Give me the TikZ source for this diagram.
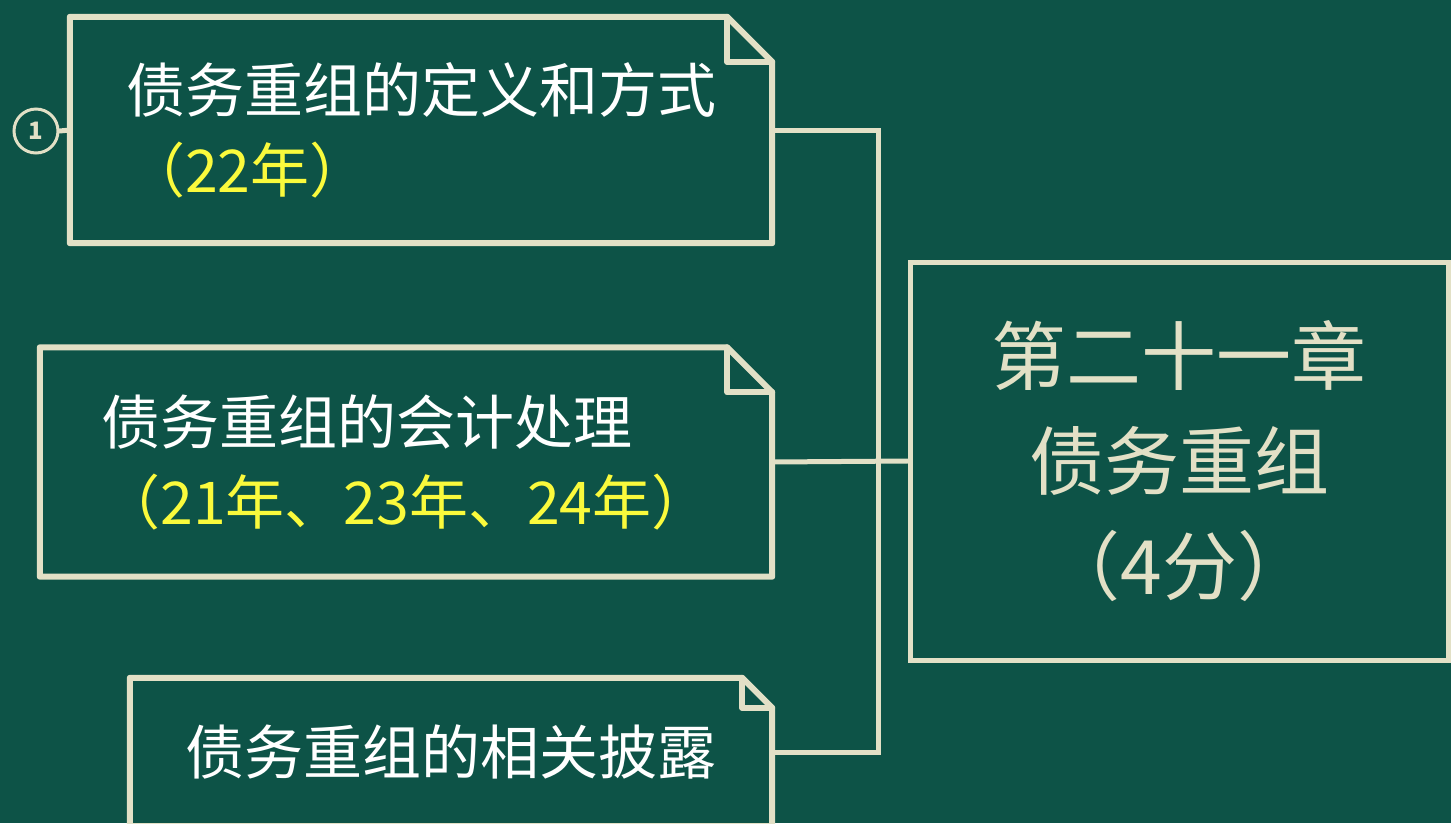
\documentclass[tikz,border=0pt]{standalone}
\usepackage{fontspec}
\newfontfamily\cjk{Noto Sans CJK SC}
\usepackage{tikz}
\definecolor{board}{RGB}{13,83,71}
\definecolor{chalk}{RGB}{226,224,198}
\definecolor{yeartext}{RGB}{250,250,60}
\tikzset{
  chalkline/.style={draw=chalk,line width=6pt,line join=round,line cap=round},
  wire/.style={draw=chalk,line width=5pt,line cap=round},
  topic/.style={inner sep=0pt,align=left,text=white,font=\cjk\fontsize{59}{80}\selectfont},
  chapter/.style={inner sep=0pt,align=center,text=chalk,font=\cjk\fontsize{75}{105}\selectfont},
  numcirc/.style={circle,draw=chalk,line width=3pt,minimum size=44pt,inner sep=0pt,text=chalk,font=\cjk\bfseries\fontsize{24}{24}\selectfont}
}
\begin{document}
\begin{tikzpicture}[x=1pt,y=-1pt]
      \useasboundingbox (0,0) rectangle (1451,823);
      \clip (0,0) rectangle (1451,823);
      \fill [board] (0,0) rectangle (1451,823);
      \node [topic,minimum width=702pt,minimum height=226pt] (def) at (421,130) {债务重组的定义和方式\\\textcolor{yeartext}{（22年）}};
      \node [topic,minimum width=732pt,minimum height=229pt] (acct) at (406,462) {债务重组的会计处理\\\textcolor{yeartext}{（21年、23年、24年）}};
      \node [topic,minimum width=642pt,minimum height=148pt] (disc) at (451,752) {债务重组的相关披露};
      \node [chapter,minimum width=538pt,minimum height=398pt,draw=chalk,line width=5pt] (chap) at (1179,461) {第二十一章\\债务重组\\（4分）};
      \node [numcirc] (num) at (36,131) {1};
      \foreach \b/\f in {def/45,acct/45,disc/30} {
        \draw [chalkline] (\b.north west) -- ([xshift=-\f pt]\b.north east) -- ([yshift=-\f pt]\b.north east) -- (\b.south east) -- (\b.south west) -- cycle;
        \draw [chalkline] ([xshift=-\f pt]\b.north east) -- ([xshift=-\f pt,yshift=-\f pt]\b.north east) -- ([yshift=-\f pt]\b.north east);
      }
      \draw [wire] (num.east) -- (def.west);
      \draw [wire] (def.east) -- ++(106,0) |- (disc.east);
      \draw [wire] (acct.east) -- (chap.west);
\end{tikzpicture}
\end{document}
